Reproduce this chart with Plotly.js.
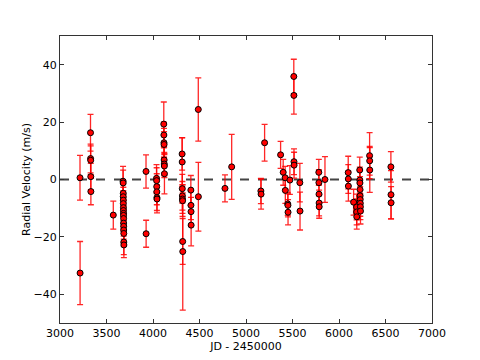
<!DOCTYPE html>
<html>
<head>
<meta charset="utf-8">
<script src="https://cdn.plot.ly/plotly-3.0.1.min.js"></script>
<style>
  html, body { margin: 0; padding: 0; background: #ffffff; }
  #chart { width: 480px; height: 360px; }
</style>
</head>
<body>
<div id="chart"></div>
<script>
// observation epochs (JD - 2450000)
const jd = [
  3215, 3216,
  3328, 3329, 3330, 3331, 3332,
  3573,
  3678, 3679, 3680, 3680, 3681, 3681, 3682, 3682, 3683, 3683, 3684, 3684, 3685, 3685, 3686, 3686, 3687,
  3925, 3926,
  4038, 4039, 4040, 4041, 4042, 4043,
  4116, 4117, 4118, 4119, 4120, 4121, 4122, 4123,
  4313, 4314, 4315, 4316, 4317, 4318, 4319, 4320,
  4407, 4408, 4409, 4410,
  4487, 4488,
  4774,
  4846,
  5160, 5162,
  5200,
  5372,
  5400,
  5421, 5423,
  5449, 5451, 5452,
  5472,
  5514, 5515, 5516, 5517,
  5579, 5581,
  5783, 5784, 5785, 5786, 5787,
  5849,
  6099, 6100, 6101,
  6157,
  6189, 6190, 6191,
  6223, 6224, 6225, 6226, 6227, 6228, 6229, 6230, 6231,
  6329, 6330, 6331,
  6558, 6559, 6560,
];

// radial velocities (m/s)
const rv = [
  0.6, -32.6,
  16.3, 7.3, 6.7, 1.0, -4.2,
  -12.4,
  -0.6, -1.2, -4.8, -6.0, -7.2, -8.4, -9.8, -10.8, -11.8, -12.5, -13.6, -15.2, -16.3, -17.6, -18.8, -21.8, -22.8,
  2.8, -18.9,
  0.4, -0.4, -2.5, -4.3, -6.3, -6.8,
  19.3, 15.5, 12.8, 12.2, 6.8, 5.4, 4.7, 2.0,
  8.9, 6.1, -3.2, -5.7, -6.8, -7.4, -21.6, -25.1,
  -3.7, -9.0, -11.2, -15.9,
  24.4, -6.0,
  -3.1,
  4.4,
  -4.0, -5.1,
  12.8,
  8.6,
  2.5,
  0.6, -3.8,
  -8.5, -9.0, -11.4,
  -0.2,
  35.9, 29.3, 6.2, 5.0,
  -1.1, -11.0,
  2.5, -1.1, -5.1, -8.2, -9.5,
  0.0,
  2.4, 0.2, -2.3,
  -7.9,
  -9.6, -11.3, -13.0,
  3.3, -0.2, -1.2, -3.5, -5.7, -7.0, -8.3, -9.5, -11.0,
  8.3, 6.5, 3.3,
  4.4, -5.3, -8.1,
];

// 1-sigma uncertainties (m/s)
const rvErr = [
  7.8, 11.0,
  6.4, 5.0, 5.0, 4.6, 4.6,
  4.9,
  5.2, 4.5, 4.5, 4.5, 4.5, 4.5, 4.5, 4.5, 4.5, 4.5, 4.5, 4.5, 4.5, 4.5, 4.5, 4.4, 4.4,
  5.8, 4.7,
  4.8, 4.5, 4.5, 4.5, 4.5, 4.8,
  7.7, 4.5, 5.0, 4.5, 4.5, 4.0, 4.0, 7.0,
  5.6, 8.5, 5.0, 5.0, 5.0, 5.5, 8.0, 20.4,
  5.1, 5.0, 5.0, 7.2,
  11.0, 12.0,
  4.7,
  11.3,
  4.4, 5.2,
  6.4,
  4.7,
  4.5,
  4.0, 4.5,
  4.0, 4.0, 4.4,
  5.0,
  6.0, 6.5, 4.5, 4.5,
  6.7, 6.6,
  4.5, 4.5, 4.5, 4.5, 4.0,
  8.0,
  5.7, 5.0, 5.2,
  4.5,
  4.5, 4.5, 4.3,
  4.5, 4.5, 4.5, 4.5, 4.5, 4.5, 4.5, 4.5, 4.5,
  8.0, 5.0, 7.8,
  5.3, 8.4, 5.6,
];

const xTicks = [3000, 3500, 4000, 4500, 5000, 5500, 6000, 6500, 7000];
const yTicks = [-40, -20, 0, 20, 40];

const trace = {
  x: jd,
  y: rv,
  type: "scatter",
  mode: "markers",
  marker: { color: "#ff0000", size: 6, line: { color: "#000000", width: 1 } },
  error_y: {
    type: "data",
    array: rvErr,
    visible: true,
    color: "rgba(255,0,0,0.85)",
    thickness: 1.3,
    width: 3,
  },
  hoverinfo: "x+y",
};

const axisStyle = {
  showgrid: false,
  zeroline: false,
  showline: true,
  linecolor: "#333333",
  linewidth: 1,
  mirror: "ticks",
  ticks: "inside",
  ticklen: 4,
  tickwidth: 1,
  tickcolor: "#333333",
  tickfont: { family: "DejaVu Sans", size: 11, color: "#000000" },
};

const layout = {
  width: 480,
  height: 360,
  paper_bgcolor: "#ffffff",
  plot_bgcolor: "#ffffff",
  showlegend: false,
  margin: { l: 60, r: 48, t: 36, b: 37 },
  font: { family: "DejaVu Sans", color: "#000000" },
  xaxis: {
    ...axisStyle,
    range: [3000, 7000],
    tickvals: xTicks,
    ticktext: xTicks.map(String),
    title: { text: "JD - 2450000", font: { family: "DejaVu Sans", size: 11 }, standoff: 2 },
  },
  yaxis: {
    ...axisStyle,
    range: [-50, 50],
    tickvals: yTicks,
    ticktext: yTicks.map((v) => (v < 0 ? "\u2212" + Math.abs(v) : String(v))),
    title: { text: "Radial Velocity (m/s)", font: { family: "DejaVu Sans", size: 11 }, standoff: 0 },
  },
  shapes: [
    {
      type: "line",
      xref: "paper",
      yref: "y",
      x0: 0,
      x1: 1,
      y0: 0,
      y1: 0,
      line: { color: "#444444", width: 2, dash: "dash" },
      layer: "below",
    },
  ],
};

Plotly.newPlot("chart", [trace], layout, { displayModeBar: false, staticPlot: true });
</script>
</body>
</html>
